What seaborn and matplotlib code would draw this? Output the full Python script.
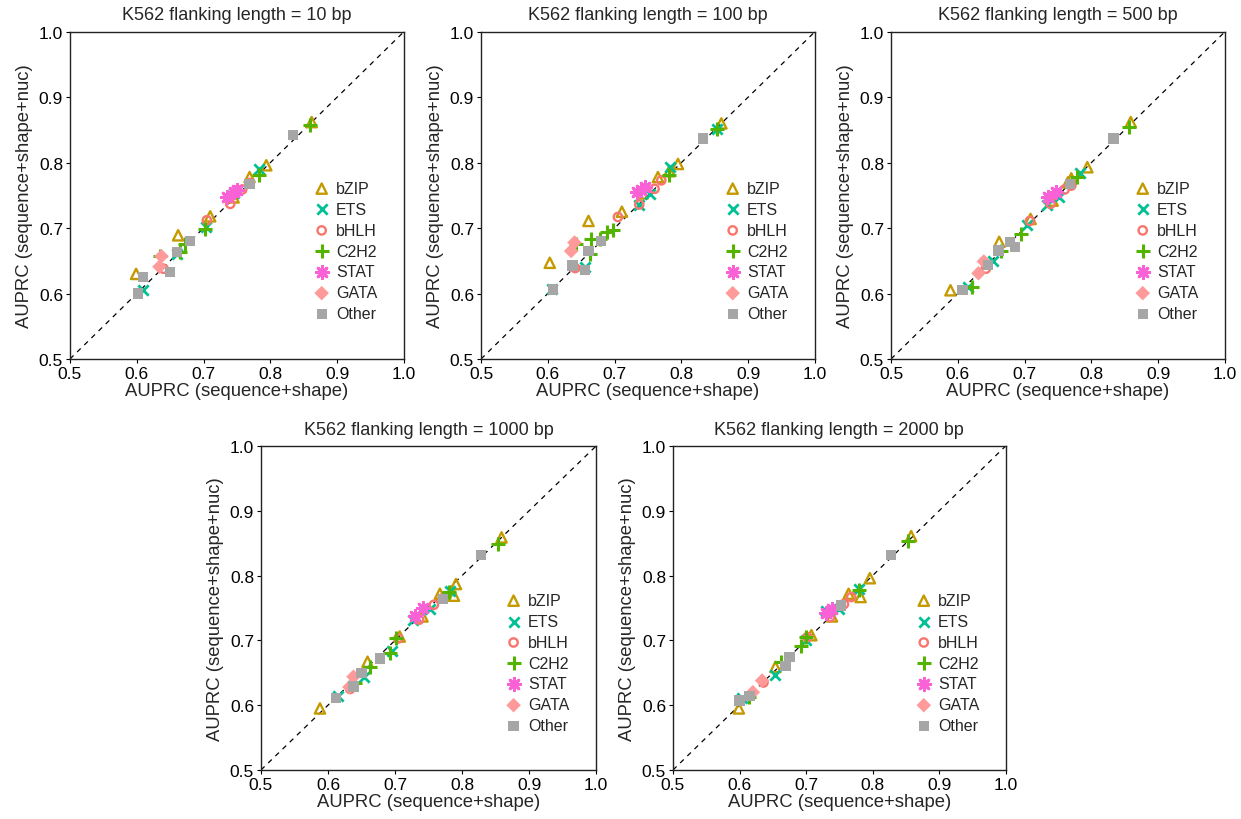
import pandas as pd
import seaborn as sns
import matplotlib.pyplot as plt

families = ['bZIP', 'ETS', 'bHLH', 'C2H2', 'STAT', 'GATA', 'Other']
fam_colors = ['#C49A00', '#00C094', '#F8766D', '#53B400', '#FB61D7', '#FF9A9A', '#A6A6A6']
fam_markers = ['^', 'x', 'o', '+', (8, 2, 0), 'D', 's']

panel_titles = ['K562 flanking length = 10 bp', 'K562 flanking length = 100 bp',
                'K562 flanking length = 500 bp', 'K562 flanking length = 1000 bp',
                'K562 flanking length = 2000 bp']

# flank 10 bp
fam_10 = ['bZIP'] * 7 + ['ETS'] * 5 + ['bHLH'] * 5 + ['C2H2'] * 6 + ['STAT'] * 3 + ['GATA'] * 2 + ['Other'] * 7
shape_10 = [0.862, 0.794, 0.769, 0.745, 0.710, 0.662, 0.599,
            0.783, 0.745, 0.660, 0.610, 0.703,
            0.769, 0.758, 0.740, 0.705, 0.640,
            0.859, 0.783, 0.702, 0.672, 0.665, 0.635,
            0.735, 0.745, 0.750,
            0.634, 0.637,
            0.834, 0.769, 0.680, 0.660, 0.650, 0.609, 0.602]
nuc_10 = [0.862, 0.796, 0.778, 0.747, 0.718, 0.689, 0.630,
          0.791, 0.753, 0.661, 0.606, 0.702,
          0.769, 0.759, 0.737, 0.712, 0.638,
          0.857, 0.781, 0.699, 0.676, 0.663, 0.658,
          0.748, 0.755, 0.758,
          0.641, 0.657,
          0.842, 0.767, 0.680, 0.664, 0.633, 0.625, 0.600]

# flank 100 bp
fam_100 = ['bZIP'] * 8 + ['ETS'] * 6 + ['bHLH'] * 5 + ['C2H2'] * 8 + ['STAT'] * 3 + ['GATA'] * 2 + ['Other'] * 6
shape_100 = [0.860, 0.795, 0.782, 0.765, 0.742, 0.711, 0.661, 0.603,
             0.853, 0.783, 0.753, 0.736, 0.656, 0.607,
             0.770, 0.760, 0.737, 0.705, 0.641,
             0.853, 0.782, 0.698, 0.688, 0.678, 0.664, 0.663, 0.643,
             0.733, 0.746, 0.740,
             0.635, 0.640,
             0.833, 0.680, 0.661, 0.656, 0.637, 0.608]
nuc_100 = [0.860, 0.798, 0.787, 0.778, 0.753, 0.725, 0.711, 0.647,
           0.852, 0.793, 0.752, 0.736, 0.640, 0.607,
           0.773, 0.760, 0.736, 0.717, 0.639,
           0.851, 0.781, 0.697, 0.694, 0.683, 0.683, 0.661, 0.675,
           0.755, 0.763, 0.758,
           0.665, 0.678,
           0.837, 0.680, 0.665, 0.636, 0.643, 0.606]

# flank 500 bp
fam_500 = ['bZIP'] * 8 + ['ETS'] * 6 + ['bHLH'] * 5 + ['C2H2'] * 5 + ['STAT'] * 2 + ['GATA'] * 2 + ['Other'] * 7
shape_500 = [0.859, 0.794, 0.770, 0.765, 0.742, 0.709, 0.662, 0.589,
             0.783, 0.752, 0.733, 0.703, 0.653, 0.616,
             0.770, 0.760, 0.739, 0.708, 0.642,
             0.857, 0.778, 0.694, 0.665, 0.622,
             0.735, 0.747,
             0.639, 0.631,
             0.833, 0.768, 0.678, 0.686, 0.661, 0.645, 0.607]
nuc_500 = [0.862, 0.793, 0.776, 0.770, 0.742, 0.714, 0.679, 0.605,
           0.784, 0.748, 0.735, 0.704, 0.650, 0.610,
           0.765, 0.759, 0.737, 0.711, 0.638,
           0.855, 0.778, 0.691, 0.665, 0.610,
           0.747, 0.755,
           0.649, 0.631,
           0.837, 0.767, 0.679, 0.671, 0.666, 0.644, 0.605]

# flank 1000 bp
fam_1000 = ['bZIP'] * 8 + ['ETS'] * 6 + ['bHLH'] * 5 + ['C2H2'] * 6 + ['STAT'] * 2 + ['GATA'] * 2 + ['Other'] * 6
shape_1000 = [0.859, 0.791, 0.788, 0.767, 0.741, 0.707, 0.659, 0.588,
              0.782, 0.752, 0.727, 0.695, 0.653, 0.615,
              0.771, 0.758, 0.736, 0.705, 0.633,
              0.853, 0.781, 0.693, 0.701, 0.663, 0.640,
              0.730, 0.742,
              0.638, 0.632,
              0.828, 0.772, 0.678, 0.650, 0.638, 0.612]
nuc_1000 = [0.859, 0.787, 0.769, 0.772, 0.737, 0.706, 0.667, 0.595,
            0.777, 0.749, 0.732, 0.684, 0.643, 0.614,
            0.765, 0.755, 0.732, 0.703, 0.625,
            0.849, 0.774, 0.681, 0.703, 0.659, 0.635,
            0.738, 0.750,
            0.644, 0.628,
            0.832, 0.764, 0.672, 0.650, 0.629, 0.611]

# flank 2000 bp
fam_2000 = ['bZIP'] * 8 + ['ETS'] * 6 + ['bHLH'] * 5 + ['C2H2'] * 6 + ['STAT'] * 2 + ['GATA'] * 2 + ['Other'] * 6
shape_2000 = [0.858, 0.796, 0.782, 0.764, 0.739, 0.708, 0.654, 0.599,
              0.780, 0.750, 0.730, 0.700, 0.653, 0.603,
              0.768, 0.757, 0.736, 0.702, 0.636,
              0.854, 0.779, 0.700, 0.693, 0.663, 0.615,
              0.730, 0.739,
              0.634, 0.620,
              0.828, 0.753, 0.675, 0.669, 0.615, 0.600]
nuc_2000 = [0.861, 0.796, 0.767, 0.772, 0.737, 0.708, 0.659, 0.595,
            0.780, 0.749, 0.746, 0.700, 0.646, 0.611,
            0.767, 0.756, 0.736, 0.705, 0.635,
            0.853, 0.778, 0.706, 0.692, 0.666, 0.612,
            0.743, 0.749,
            0.638, 0.620,
            0.832, 0.754, 0.674, 0.661, 0.614, 0.607]

ticks = [0.5, 0.6, 0.7, 0.8, 0.9, 1.0]
tick_labels = ['0.5', '0.6', '0.7', '0.8', '0.9', '1.0']

if __name__ == '__main__':
    sns.set_style('ticks')
    plt.rcParams['font.family'] = ['Liberation Sans', 'DejaVu Sans']

    panels = [(fam_10, shape_10, nuc_10), (fam_100, shape_100, nuc_100),
              (fam_500, shape_500, nuc_500), (fam_1000, shape_1000, nuc_1000),
              (fam_2000, shape_2000, nuc_2000)]
    positions = [[0.0564, 0.561, 0.269, 0.399], [0.3876, 0.561, 0.269, 0.399],
                 [0.7180, 0.561, 0.269, 0.399], [0.2103, 0.0598, 0.270, 0.395],
                 [0.5423, 0.0598, 0.268, 0.395]]

    figure = plt.figure(figsize=(12.41, 8.2), dpi=100)
    for (fam, xs, ys), pos, title in zip(panels, positions, panel_titles):
        axis = figure.add_axes(pos)
        data = pd.DataFrame({'family': fam, 'seq_shape': xs, 'seq_shape_nuc': ys})

        axis.plot([0.5, 1.0], [0.5, 1.0], ls=(0, (4, 4)), color='black', lw=0.9, zorder=1)

        for name, color, marker in zip(families, fam_colors, fam_markers):
            sub = data[data.family == name]
            if name == 'bZIP':
                sns.scatterplot(x='seq_shape', y='seq_shape_nuc', data=sub, marker=marker,
                                color=color, facecolor='none', edgecolor=color,
                                linewidth=1.7, s=55, label=name, ax=axis, zorder=3)
            elif name == 'bHLH':
                sns.scatterplot(x='seq_shape', y='seq_shape_nuc', data=sub, marker=marker,
                                color=color, facecolor='none', edgecolor=color,
                                linewidth=1.7, s=36, label=name, ax=axis, zorder=3)
            elif name == 'ETS':
                sns.scatterplot(x='seq_shape', y='seq_shape_nuc', data=sub, marker=marker,
                                color=color, linewidth=2.0, s=55, label=name, ax=axis, zorder=3)
            elif name == 'C2H2':
                sns.scatterplot(x='seq_shape', y='seq_shape_nuc', data=sub, marker=marker,
                                color=color, linewidth=2.2, s=95, label=name, ax=axis, zorder=3)
            elif name == 'STAT':
                sns.scatterplot(x='seq_shape', y='seq_shape_nuc', data=sub, marker=marker,
                                color=color, linewidth=2.0, s=80, label=name, ax=axis, zorder=3)
            else:
                sns.scatterplot(x='seq_shape', y='seq_shape_nuc', data=sub, marker=marker,
                                color=color, edgecolor='none', s=55, label=name, ax=axis, zorder=3)

        axis.set_xlim(0.5, 1.0)
        axis.set_ylim(0.5, 1.0)
        axis.set_xticks(ticks)
        axis.set_xticklabels(tick_labels)
        axis.set_yticks(ticks)
        axis.set_yticklabels(tick_labels)
        axis.tick_params(direction='out', length=3, width=0.8, labelsize=12.5, pad=2, colors='black')
        for spine in axis.spines.values():
            spine.set_visible(True)
            spine.set_color('#222222')
            spine.set_linewidth(1.0)
        axis.set_xlabel('AUPRC (sequence+shape)', fontsize=13.3, labelpad=1)
        axis.set_ylabel('AUPRC (sequence+shape+nuc)', fontsize=13.3, labelpad=4)
        axis.set_title(title, fontsize=13, pad=9)
        axis.legend(loc='center left', bbox_to_anchor=(0.73, 0.33), frameon=False,
                    fontsize=11.5, handlelength=1.0, handletextpad=0.4, labelspacing=0.37,
                    borderpad=0, borderaxespad=0)

    figure.savefig('out.png', dpi=100)
